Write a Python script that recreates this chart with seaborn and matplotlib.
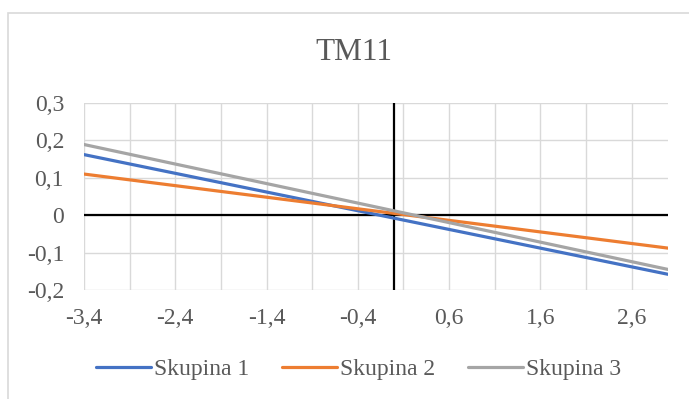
import matplotlib
matplotlib.use("Agg")
import matplotlib.pyplot as plt
import matplotlib.patches as mpatches
import numpy as np
import pandas as pd
import seaborn as sns

# Data
x_vals = [-3.4, 3.0]
skupina1 = [0.162, -0.158]
skupina2 = [0.110, -0.088]
skupina3 = [0.189, -0.145]
series_names = ["Skupina 1", "Skupina 2", "Skupina 3"]
colors = ["#4472C4", "#ED7D31", "#A5A5A5"]
x_ticks = [-3.4, -2.4, -1.4, -0.4, 0.6, 1.6, 2.6]
y_ticks = [-0.2, -0.1, 0.0, 0.1, 0.2, 0.3]
title = "TM11"

rows = []
for name, ys in zip(series_names, [skupina1, skupina2, skupina3]):
    for xv, yv in zip(x_vals, ys):
        rows.append({"x": xv, "y": yv, "serie": name})
df = pd.DataFrame(rows)

sns.set_theme(style="white")
plt.rcParams["font.family"] = ["Liberation Serif", "DejaVu Serif"]
txt = "#595959"

fig = plt.figure(figsize=(6.89, 3.99), dpi=100)
W, H = 689, 399
ax = fig.add_axes([84 / W, (H - 290) / H, (668 - 84) / W, (290 - 103) / H])

# chart border
fig.patches.append(mpatches.Rectangle((8 / W, -0.1), 1.2, (H - 13) / H + 0.1,
                                      transform=fig.transFigure, fill=False,
                                      edgecolor="#D9D9D9", linewidth=1.2))

# grid
for gx in np.arange(-3.4, 3.01, 0.5):
    ax.axvline(gx, color="#D9D9D9", linewidth=1.0, zorder=0)
for gy in y_ticks:
    ax.axhline(gy, color="#D9D9D9", linewidth=1.0, zorder=0)

ax.axhline(0, color="black", linewidth=1.6, zorder=1)
ax.axvline(0, color="black", linewidth=1.6, zorder=1)

sns.lineplot(data=df, x="x", y="y", hue="serie", palette=colors,
             linewidth=2.3, ax=ax, legend=False, zorder=3)

ax.set_xlim(-3.4, 3.0)
ax.set_ylim(-0.2, 0.3)
ax.set_xticks(x_ticks)
ax.set_xticklabels([f"{v:.1f}".replace(".", ",") for v in x_ticks])
ax.set_yticks(y_ticks)
ax.set_yticklabels(["0" if abs(v) < 1e-9 else f"{v:.1f}".replace(".", ",") for v in y_ticks])
ax.tick_params(axis="both", length=0, labelsize=17, colors=txt)
ax.xaxis.set_tick_params(pad=13)
ax.yaxis.set_tick_params(pad=14.4)
for s in ax.spines.values():
    s.set_visible(False)
ax.set_xlabel("")
ax.set_ylabel("")

fig.text(354 / W, (H - 52) / H, title, ha="center", va="center",
         fontsize=22.5, color=txt)

handles = [plt.Line2D([0], [0], color=c, linewidth=2.3) for c in colors]
fig.legend(handles, series_names, loc="center", bbox_to_anchor=(358.5 / W, (H - 369) / H),
           ncol=3, frameon=False, fontsize=17, labelcolor=txt,
           handlelength=2.33, handletextpad=0.12, columnspacing=1.4)

fig.savefig("out.png", dpi=100, facecolor="white")
